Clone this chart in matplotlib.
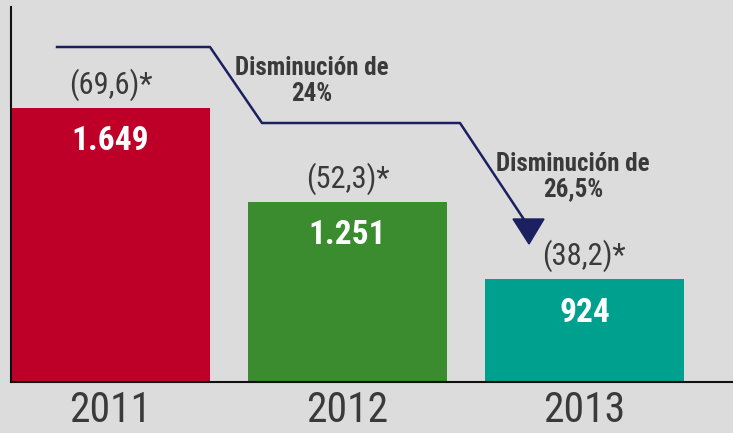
import matplotlib
matplotlib.use("Agg")
import matplotlib.pyplot as plt
from matplotlib.patches import Polygon
from matplotlib import font_manager

years = ["2011", "2012", "2013"]
values = [1649, 1251, 924]
value_labels = ["1.649", "1.251", "924"]
rate_labels = ["(69,6)*", "(52,3)*", "(38,2)*"]
change_labels = ["24%", "26,5%"]
colors = ["#be0028", "#3b8b2f", "#00a08f"]

# pick a narrow / condensed font if one is installed
FAM = ["DejaVu Sans"]
STRETCH = "normal"
entries = font_manager.fontManager.ttflist
pref = ["Liberation Sans Narrow", "Roboto Condensed", "Open Sans Condensed",
        "DejaVu Sans Condensed", "Noto Sans Condensed"]
names = {f.name for f in entries}
found = None
for p in pref:
    if p in names:
        found = p
        break
if found:
    FAM = [found, "DejaVu Sans"]
else:
    for f in entries:
        if f.stretch in ("condensed", "semi-condensed", 600, 700) or "Condensed" in f.fname:
            FAM = [f.name, "DejaVu Sans"]
            STRETCH = "condensed"
            break

TXT = "#3a3a3a"
BG = "#dcdcdc"

W, H = 733, 433
fig = plt.figure(figsize=(W / 100, H / 100), dpi=100, facecolor=BG)
ax = fig.add_axes([11 / W, 51 / H, (W - 11) / W, 375 / H])
ax.set_facecolor(BG)

x = list(range(len(years)))
ax.bar(x, values, width=0.84, color=colors, zorder=2)
ax.set_xlim(-0.42, 2.627)
ax.set_ylim(491, 2073)

for s in ["top", "right"]:
    ax.spines[s].set_visible(False)
for s in ["left", "bottom"]:
    ax.spines[s].set_color("#111111")
    ax.spines[s].set_linewidth(1.5)
ax.set_yticks([])
ax.set_xticks(x)
ax.set_xticklabels(years, family=FAM, fontstretch=STRETCH, fontsize=30, color=TXT)
ax.tick_params(axis="x", length=0, pad=6)

for xi, v, vl, rl in zip(x, values, value_labels, rate_labels):
    ax.annotate(rl, (xi, v), xytext=(0, 5), textcoords="offset points",
                ha="center", va="bottom", family=FAM, fontstretch=STRETCH,
                fontsize=22, color=TXT)
    ax.annotate(vl, (xi, v), xytext=(0, -24), textcoords="offset points",
                ha="center", va="center", family=FAM, fontstretch=STRETCH,
                fontsize=24, fontweight="bold", color="white")

def P(px, py):
    return (px / W, 1 - py / H)

path = [P(57, 47), P(210, 47), P(262, 123), P(460, 123), P(525, 221)]
fig.lines.append(plt.Line2D([p[0] for p in path], [p[1] for p in path],
                            transform=fig.transFigure, color="#1b2160", lw=1.8))
fig.patches.append(Polygon([P(513, 219), P(544, 219), P(529, 244)], closed=True,
                           transform=fig.transFigure, color="#1b2160"))

for cx, y1, y2, lab in [(312, 68, 94, change_labels[0]), (573, 164, 189, change_labels[1])]:
    fig.text(*P(cx, y1), "Disminución de", ha="center", va="center",
             family=FAM, fontstretch=STRETCH, fontsize=18, fontweight="bold", color=TXT)
    fig.text(*P(cx, y2), lab, ha="center", va="center",
             family=FAM, fontstretch=STRETCH, fontsize=18, fontweight="bold", color=TXT)

fig.savefig("out.png", dpi=100, facecolor=BG)
